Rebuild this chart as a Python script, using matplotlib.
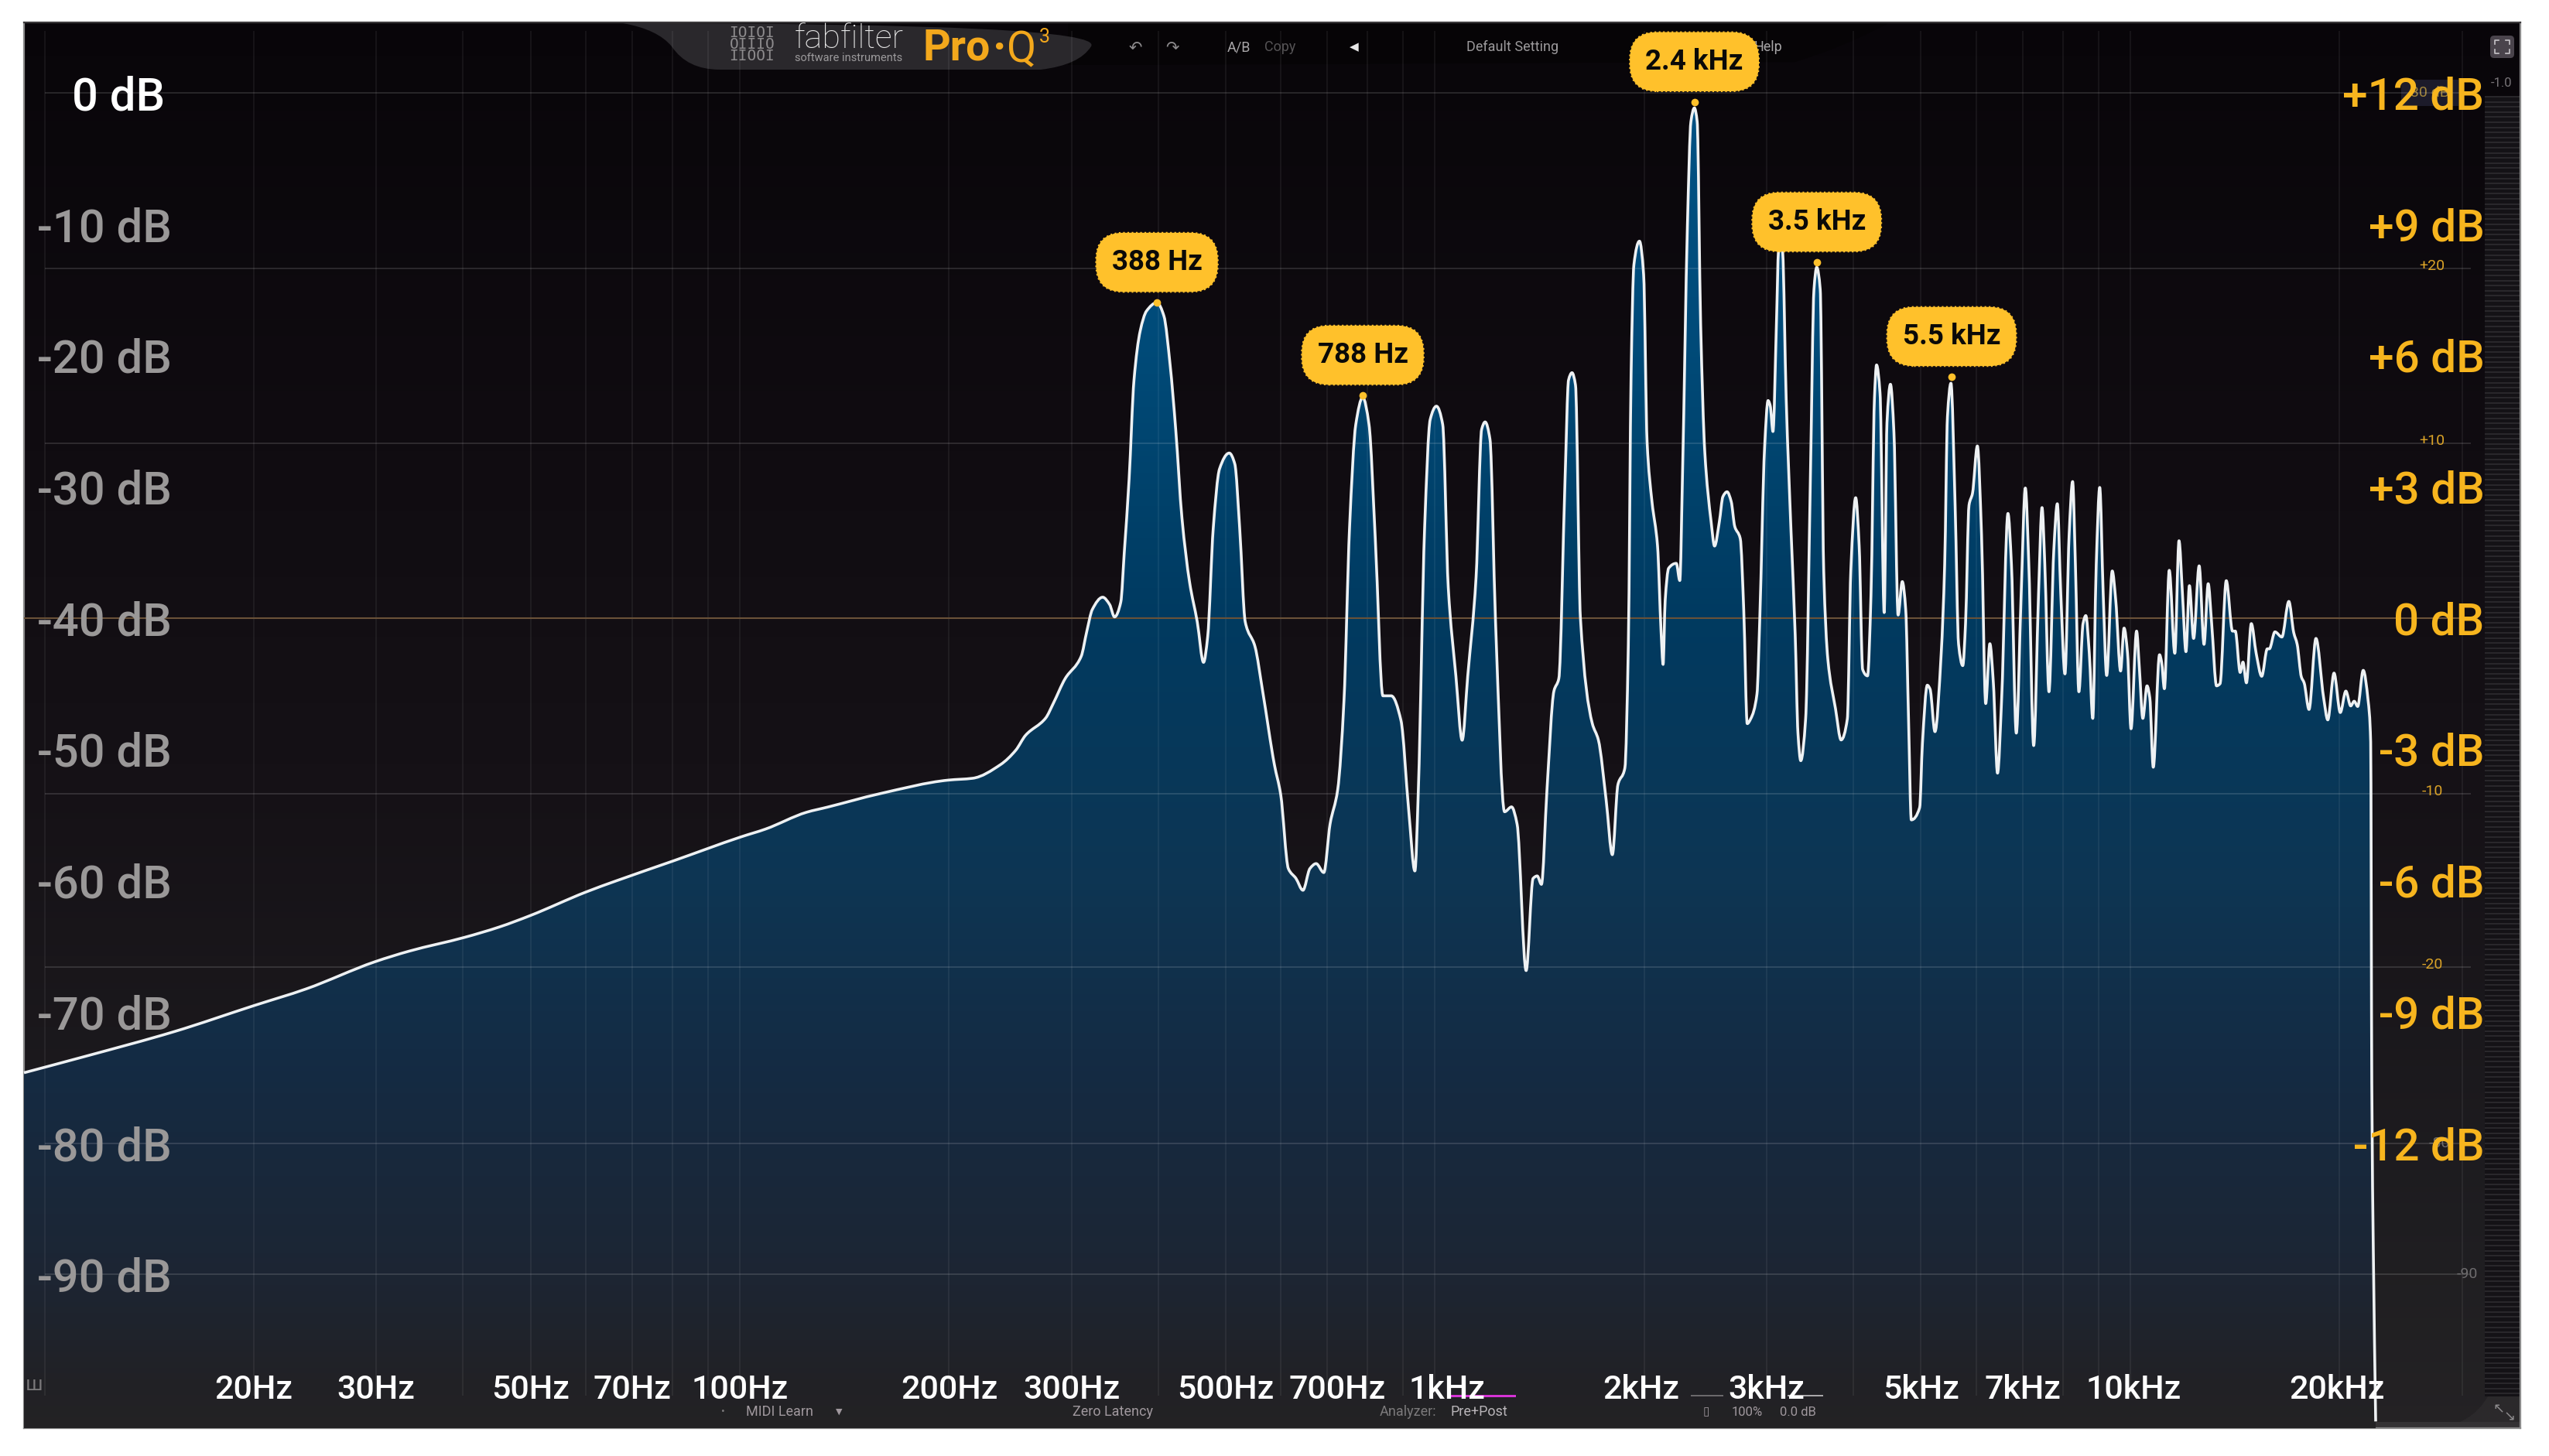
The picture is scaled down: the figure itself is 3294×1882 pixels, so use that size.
## Pro-Q 3 spectrum screenshot
import numpy as np
import matplotlib
matplotlib.use("Agg")
import matplotlib.pyplot as plt
from matplotlib.colors import LinearSegmentedColormap
from matplotlib.path import Path
from matplotlib.patches import PathPatch, Rectangle, FancyBboxPatch
from matplotlib.transforms import Affine2D

plt.rcParams["font.family"] = ["Roboto", "DejaVu Sans"]

########################### spectrum: log10(Hz) and dB ###############
lf_low = [.9705, 1.058, 1.187, 1.301, 1.376, 1.475, 1.525, 1.604, 1.654, 1.699, 1.778, 1.823,
          1.903, 2.002, 2.037, 2.096, 2.126, 2.201, 2.300, 2.335, 2.375]
db_low = [-74.64, -73.40, -71.50, -69.53, -68.26, -66.19, -65.37, -64.33, -63.54, -62.66, -60.89, -60.01,
          -58.53, -56.67, -56.08, -54.80, -54.41, -53.39, -52.35, -52.21, -51.17]

lf_mid = [2.397, 2.411, 2.440, 2.451, 2.468, 2.491, 2.499, 2.507, 2.522, 2.532, 2.539, 2.548, 2.553, 2.560,
          2.567, 2.576, 2.585, 2.600, 2.610, 2.619, 2.627, 2.636, 2.647, 2.658, 2.667, 2.673, 2.681, 2.690,
          2.704, 2.712, 2.719, 2.727, 2.741, 2.752, 2.769, 2.778, 2.789, 2.800, 2.810, 2.820, 2.829, 2.840,
          2.849, 2.860, 2.869, 2.877, 2.886, 2.896, 2.905, 2.914, 2.925, 2.937, 2.951, 2.962, 2.971, 2.976,
          2.985, 2.993, 3.002, 3.011, 3.019, 3.030, 3.039, 3.047, 3.059, 3.067, 3.072, 3.079, 3.087, 3.100,
          3.110, 3.118, 3.131, 3.141, 3.147, 3.153, 3.161, 3.171, 3.178, 3.187, 3.192, 3.197, 3.202, 3.209,
          3.226, 3.235, 3.246, 3.255, 3.263]
db_mid = [-50.07, -48.94, -47.62, -46.50, -44.62, -42.93, -41.05, -39.36, -38.42, -38.98, -39.92, -38.79, -35.03, -29.40,
          -21.88, -18.12, -16.62, -15.98, -16.99, -20.75, -25.64, -32.40, -37.29, -40.30, -43.38, -41.42, -33.16, -28.65,
          -27.44, -28.27, -33.16, -40.30, -42.17, -45.56, -51.19, -53.45, -59.09, -59.84, -60.74, -59.09, -58.71, -59.39,
          -55.70, -53.07, -46.31, -33.16, -25.26, -23.20, -25.26, -33.91, -45.93, -45.93, -47.81, -54.58, -59.27, -53.07,
          -33.16, -24.89, -23.87, -25.26, -37.66, -44.43, -49.31, -44.43, -36.91, -25.64, -25.07, -26.39, -40.30, -54.76,
          -54.39, -55.70, -66.86, -59.84, -59.65, -60.29, -53.07, -45.56, -44.62, -29.40, -21.88, -21.32, -22.26, -39.92,
          -48.00, -49.31, -53.82, -58.03, -52.70]

lf_upper = [3.273, 3.278, 3.282, 3.286, 3.294, 3.300, 3.305, 3.312, 3.320, 3.325, 3.328, 3.331, 3.336, 3.347, 3.352,
            3.356, 3.363, 3.368, 3.373, 3.377, 3.382, 3.388, 3.397, 3.402, 3.409, 3.414, 3.420, 3.426, 3.431, 3.439,
            3.444, 3.449, 3.454, 3.463, 3.467, 3.474, 3.479, 3.482, 3.486, 3.491, 3.494, 3.497, 3.500, 3.505, 3.512,
            3.518, 3.522, 3.526, 3.533, 3.540, 3.545, 3.549, 3.554, 3.559, 3.565, 3.576, 3.584, 3.593, 3.598, 3.605,
            3.610, 3.615, 3.622, 3.627, 3.632, 3.635, 3.640, 3.646, 3.650, 3.655, 3.660, 3.666, 3.672, 3.677, 3.681,
            3.685, 3.697, 3.701, 3.708, 3.712]
db_upper = [-51.43, -42.04, -21.37, -13.10, -11.30, -13.85, -26.63, -31.14, -34.52, -40.91, -43.54, -38.66, -36.21, -35.84, -37.15,
            -28.89, -10.09, -2.20, -1.15, -2.20, -17.61, -27.38, -32.64, -34.52, -32.64, -30.76, -30.39, -31.14, -33.02, -33.96,
            -39.41, -48.05, -47.68, -45.80, -40.16, -27.01, -23.44, -23.81, -25.80, -17.61, -11.97, -10.85, -12.16, -23.25, -33.39,
            -41.29, -48.80, -50.87, -47.68, -28.89, -14.98, -13.29, -14.98, -36.40, -43.17, -46.92, -49.29, -47.68, -36.40, -30.84,
            -34.52, -43.92, -44.41, -38.28, -23.25, -20.73, -22.87, -39.59, -25.13, -22.20, -25.88, -39.78, -37.23, -39.41, -47.68,
            -55.38, -54.44, -49.55, -45.12, -45.42]

lf_high = [3.719, 3.728, 3.733, 3.737, 3.742, 3.748, 3.753, 3.759, 3.763, 3.768, 3.773, 3.780, 3.786, 3.792, 3.798, 3.803,
           3.809, 3.815, 3.824, 3.829, 3.836, 3.843, 3.849, 3.854, 3.861, 3.868, 3.873, 3.877, 3.883, 3.890, 3.895, 3.900,
           3.906, 3.912, 3.917, 3.921, 3.926, 3.932, 3.936, 3.941, 3.946, 3.951, 3.956, 3.961, 3.966, 3.974, 3.979, 3.986,
           3.991, 3.996, 4.001, 4.009, 4.013, 4.018, 4.024, 4.028, 4.033, 4.042, 4.045, 4.049, 4.056, 4.064, 4.070, 4.075,
           4.080, 4.085, 4.091, 4.099, 4.106, 4.112, 4.117, 4.124, 4.129, 4.138, 4.147, 4.151, 4.158, 4.162, 4.167, 4.174,
           4.181, 4.189, 4.197, 4.200, 4.208, 4.218, 4.228, 4.235, 4.240, 4.246, 4.250, 4.257, 4.267, 4.278, 4.284, 4.293,
           4.302, 4.310, 4.317, 4.322, 4.327, 4.335, 4.342, 4.3457, 4.3473, 4.3495, 4.3529]
db_high = [-48.66, -42.69, -35.92, -24.66, -22.12, -31.41, -42.01, -43.63, -40.43, -31.41, -30.51, -26.90, -33.67, -46.52, -41.96, -44.94,
           -51.82, -46.07, -32.04, -35.92, -48.77, -38.18, -30.10, -35.92, -49.72, -38.18, -31.59, -35.92, -45.62, -34.79, -31.30, -38.18,
           -44.26, -33.67, -29.61, -35.92, -45.62, -40.43, -39.82, -42.69, -47.65, -35.92, -30.06, -38.18, -44.38, -36.42, -38.63, -44.04,
           -40.77, -42.69, -48.44, -41.00, -43.81, -47.65, -45.17, -46.07, -51.37, -42.80, -43.36, -45.39, -36.37, -42.69, -34.12, -38.18,
           -42.57, -37.54, -41.56, -36.03, -42.01, -37.39, -40.43, -45.17, -45.01, -37.16, -41.00, -41.00, -44.15, -43.36, -44.94, -40.43,
           -42.69, -44.44, -42.35, -42.35, -41.06, -41.45, -38.74, -41.11, -42.01, -44.49, -44.94, -46.97, -41.56, -46.07, -47.76, -44.20,
           -47.20, -45.57, -46.70, -46.34, -46.74, -43.99, -46.29, -49.45, -75.40, -88.20, -101.20]

########################### peak labels ##############################
peak_names = ["388 Hz", "788 Hz", "2.4 kHz", "3.5 kHz", "5.5 kHz"]
peak_lf = [2.600, 2.896, 3.373, 3.549, 3.743]
peak_db = [-15.98, -23.05, -0.70, -12.91, -21.63]

########################### axis labels ##############################
left_db = [0, -10, -20, -30, -40, -50, -60, -70, -80, -90]
right_gain = [12, 9, 6, 3, 0, -3, -6, -9, -12]
freq_names = ["20Hz", "30Hz", "50Hz", "70Hz", "100Hz", "200Hz", "300Hz", "500Hz", "700Hz", "1kHz",
              "2kHz", "3kHz", "5kHz", "7kHz", "10kHz", "20kHz"]
freq_name_hz = [20, 30, 50, 70, 100, 200, 300, 500, 723, 1040, 1980, 3000, 5000, 7000, 10100, 19800]
grid_hz = [10, 20, 30, 40, 50, 60, 70, 80, 90, 100, 200, 300, 400, 500, 600, 700, 800, 900, 1000,
           2000, 3000, 4000, 5000, 6000, 7000, 8000, 9000, 10000, 20000, 30000]
eq_grid_db = [0, -13.4, -26.7, -53.4, -66.6, -80, -90]
eq_small = ["+20", "+10", "-10", "-20"]
eq_small_db = [-13.4, -26.7, -53.4, -66.6]

YEL = "#ffc12b"
ORANGE = "#f7b51e"

W, H = 3294, 1882
fig = plt.figure(figsize=(W / 100, H / 100), dpi=100, facecolor="white")
ax = fig.add_axes([31 / W, 1 - 1846 / H, (3257 - 31) / W, (1846 - 29) / H])
ax.set_xscale("log")
y_top, y_bot = 5.36, -101.71
x_min, x_max = 10 ** .9705, 10 ** 4.561
ax.set_xlim(x_min, x_max)
ax.set_ylim(y_bot, y_top)
ax.autoscale(False)
ax.tick_params(which="both", length=0, labelbottom=False, labelleft=False)
ax.minorticks_off()
for name, sp in ax.spines.items():
    sp.set_color("#8a8a8a" if name in ("left", "bottom", "right") else "#3a383a")
    sp.set_linewidth(1.6)

## pixel transform for the plugin chrome (panels, icons)
px = Affine2D().scale(1 / 100, -1 / 100).translate(0, H / 100) + fig.dpi_scale_trans

## background gradient
edges = np.linspace(y_bot, y_top, 257)
centers = (edges[1:] + edges[:-1]) / 2
bg_cmap = LinearSegmentedColormap.from_list("bg", [(0, "#242224"), (.12, "#1f1e21"), (.45, "#151116"), (.72, "#0f0b10"), (1, "#080509")])
ax.pcolormesh([x_min, x_max], edges, centers[:, None], cmap=bg_cmap, vmin=y_bot, vmax=y_top, zorder=0, shading="flat")

## chrome panels
def panel(verts, codes, color, z=1):
    ax.add_patch(PathPatch(Path(verts, codes), fc=color, ec="none", transform=px, zorder=z, clip_on=True))

M, L, C = Path.MOVETO, Path.LINETO, Path.CURVE3
panel([(1380, 30), (2440, 30), (2385, 60), (2320, 80), (1440, 84), (1380, 84), (1380, 30)], [M, L, C, C, L, L, L], "#060406")
panel([(805, 30), (850, 38), (868, 60), (888, 90), (930, 90), (1345, 90), (1395, 84), (1410, 60), (1430, 30), (805, 30)],
      [M, C, C, C, L, L, C, C, C, L], "#2a282c", 2)
panel([(870, 1846), (885, 1804), (905, 1804), (2395, 1804), (2400, 1804), (2415, 1846), (870, 1846)], [M, C, C, L, C, C, L], "#2a252a")
panel([(3150, 1846), (3195, 1840), (3215, 1805), (3257, 1805), (3257, 1846), (3150, 1846)], [M, C, C, L, L, L], "#2b292b")
ax.add_patch(Rectangle((31, 1838), 3226, 8, fc="#343234", ec="none", transform=px, zorder=1))

## level meter strip on the right edge
ax.add_patch(Rectangle((3211, 125), 46, 1680, fc="#141216", ec="none", transform=px, zorder=1))
ax.hlines(np.arange(125, 1805, 6.6), 3211, 3257, colors="#2e2c30", linewidth=1.2, transform=px, zorder=1)
ax.add_patch(FancyBboxPatch((3218, 46), 31, 29, boxstyle="round,pad=0,rounding_size=5", fc="#4a444c", ec="none", transform=px, zorder=3))
## full-screen icon, no installed font has this sign
for cx, cy, dx, dy in [(3224, 52, 1, 1), (3243, 52, -1, 1), (3224, 69, 1, -1), (3243, 69, -1, -1)]:
    ax.plot([cx + 5 * dx, cx, cx], [cy, cy, cy + 5 * dy], color="#c8c4c8", lw=1.2, transform=px, zorder=4)
ax.add_patch(Rectangle((3103, 103), 74, 34, fc="#1c1b2a", ec="none", transform=px, zorder=1))
ax.text(3140, 120, "30 dB", color="#a0843c", fontsize=14, ha="center", va="center", transform=px, zorder=2)
ax.text(3233, 107, "-1.0", color="#777377", fontsize=12, ha="center", va="center", transform=px, zorder=4)

## grid
vg_top = (120 - 40) / 16.97
vg_bot = (120 - 1804) / 16.97
ax.vlines(grid_hz, vg_bot, vg_top, colors="white", alpha=.075, linewidth=1.1, zorder=4)
ax.hlines(eq_grid_db, 10 ** 1.0, 10 ** 4.49, colors="white", alpha=.13, linewidth=1.4, zorder=4)
ax.hlines(-40, x_min, 10 ** 4.50, colors="#6a5238", linewidth=1.5, zorder=4)

## spectrum fill and curve
log_f = np.array(lf_low + lf_mid + lf_upper + lf_high)
level = np.array(db_low + db_mid + db_upper + db_high)

## curve goes through every read point, bezier handles only round the corners like the analyzer does
def curve_path(lx, ly):
    dx = np.diff(lx)
    sl = np.diff(ly) / dx
    m = np.zeros(len(lx))
    for i in range(1, len(lx) - 1):
        if sl[i - 1] * sl[i] > 0:
            w1 = 2 * dx[i] + dx[i - 1]
            w2 = dx[i] + 2 * dx[i - 1]
            m[i] = (w1 + w2) / (w1 / sl[i - 1] + w2 / sl[i])
    m[0], m[-1] = sl[0], sl[-1]
    verts = [(lx[0], ly[0])]
    codes = [Path.MOVETO]
    for i in range(len(lx) - 1):
        h = dx[i] / 3
        verts += [(lx[i] + h, ly[i] + m[i] * h), (lx[i + 1] - h, ly[i + 1] - m[i + 1] * h), (lx[i + 1], ly[i + 1])]
        codes += [Path.CURVE4, Path.CURVE4, Path.CURVE4]
    verts = np.array(verts)
    verts[:, 0] = 10.0 ** verts[:, 0]
    return verts, codes

verts, codes = curve_path(log_f, level)
fill_cmap = LinearSegmentedColormap.from_list("fill", [(0, "#232224"), (.03, "#212125"), (.11, "#1c2533"), (.25, "#142a42"),
                                                       (.39, "#0d3553"), (.58, "#003a60"), (.77, "#004a78"), (1, "#005488")])
mesh = ax.pcolormesh([x_min, x_max], edges, centers[:, None], cmap=fill_cmap, vmin=y_bot, vmax=y_top, zorder=3, shading="flat")
clip_verts = np.vstack([verts, [[verts[-1, 0], y_bot], [verts[0, 0], y_bot], verts[0]]])
clip_codes = codes + [Path.LINETO, Path.LINETO, Path.CLOSEPOLY]
clip = PathPatch(Path(clip_verts, clip_codes), fc="none", ec="none", transform=ax.transData)
ax.add_patch(clip)
mesh.set_clip_path(clip)
ax.add_patch(PathPatch(Path(verts, codes), fc="none", ec="#eef1f3", lw=2.6, joinstyle="round", zorder=6, clip_on=False))

## analyzer scale on the left
for v in left_db:
    c = "white" if v == 0 else "#9a9898"
    hz = 14.9 if v == 0 else 15.25
    ax.text(hz, v, "%d dB" % v, color=c, fontsize=43, fontweight="medium", ha="right", va="center_baseline", zorder=7)
## gain scale on the right
for g in right_gain:
    s = "0 dB" if g == 0 else "%+d dB" % g
    ax.text(32300, -40 + g * 40 / 12, s, color=ORANGE, fontsize=42, fontweight="medium", ha="right", va="center_baseline", zorder=7)
for s, v in zip(eq_small, eq_small_db):
    ax.text(10 ** 4.434, v + .2, s, color="#d9a227", fontsize=14, ha="center", va="center", zorder=5)
ax.text(10 ** 4.484, -90, "-90", color="#6e6c6e", fontsize=14, ha="center", va="center", zorder=5)
ax.text(10 ** 4.445, -80, "-80", color="#6e6c6e", fontsize=14, ha="center", va="center", zorder=5)
## frequency scale
for s, f in zip(freq_names, freq_name_hz):
    ax.text(f, -98.5, s, color="white", fontsize=31, fontweight="medium", ha="center", va="center_baseline", zorder=7)

## peak markers and labels
for s, lf, d in zip(peak_names, peak_lf, peak_db):
    ax.plot([10 ** lf], [d], "o", color=YEL, markersize=7, mew=0, zorder=8)
    ax.annotate(s, (10 ** lf, d), xytext=(0, 37.5), textcoords="offset points", ha="center", va="center",
                fontsize=26.5, fontweight="bold", color="#0b0a08", zorder=9,
                bbox=dict(boxstyle="round,pad=0.55,rounding_size=0.95", fc=YEL, ec=YEL, ls=":", lw=1.5))

## header
def ui(x, y, s, color="#a9a7a9", size=13, z=5, **kw):
    ax.text(x, y, s, color=color, fontsize=size, ha=kw.pop("ha", "center"), va="center", transform=px, zorder=z, **kw)

for row, bits in enumerate(["IOIOI", "OIIIO", "IIOOI"]):
    ui(972, 42 + row * 15.5, bits, color="#8d8b8d", size=14, family=["DejaVu Sans Mono"])
ui(1097, 51, "fabfilter", color="#e8e8e8", size=31, fontweight="light")
ui(1097, 75, "software instruments", color="#9b999b", size=10.5)
ui(1236, 62, "Pro", color="#f3a81c", size=40, fontweight="bold")
ui(1292, 64, "·", color="#f3a81c", size=42, fontweight="bold")
ui(1320, 65, "Q", color="#f3a81c", size=40)
ui(1350, 48, "3", color="#f3a81c", size=18)
ui(1467, 61, "↶", color="#8d8b8d", size=15, family=["DejaVu Sans"])
ui(1515, 61, "↷", color="#8d8b8d", size=15, family=["DejaVu Sans"])
ui(1601, 61, "A/B", color="#a9a7a9")
ui(1654, 61, "Copy", color="#555355")
ui(1750, 61, "◀", color="#e8e8e8", size=11, family=["DejaVu Sans"])
ui(1955, 61, "Default Setting", color="#9b999b")
ui(2285, 61, "Help", color="#a9a7a9")

## footer
ui(44, 1790, "ш", color="#7b797b", size=18, family=["DejaVu Sans"])
ui(934, 1825, "•", color="#7b797b", size=10)
ui(1008, 1825, "MIDI Learn", color="#a0989e")
ui(1084, 1825, "▼", color="#a0989e", size=8, family=["DejaVu Sans"])
ui(1438, 1825, "Zero Latency", color="#a0989e")
ui(1819, 1825, "Analyzer:", color="#7b797b")
ui(1911, 1825, "Pre+Post", color="#b8b4b8")
ui(2205, 1825, "▯", color="#a0989e", size=11, family=["DejaVu Sans"])
ui(2258, 1825, "100%", color="#a0989e", size=12)
ui(2323, 1825, "0.0 dB", color="#a0989e", size=12)
ui(3229, 1821, "↖", color="#8d8b8d", size=13, family=["DejaVu Sans"])
ui(3243, 1832, "↘", color="#8d8b8d", size=13, family=["DejaVu Sans"])
ax.add_patch(Rectangle((1875, 1803), 84, 3, fc="#d633d6", ec="none", transform=px, zorder=6))
ax.add_patch(Rectangle((2185, 1803), 42, 2, fc="#6b696b", ec="none", transform=px, zorder=6))
ax.add_patch(Rectangle((2310, 1803), 46, 2, fc="#a9a7a9", ec="none", transform=px, zorder=6))

fig.savefig("out.png", dpi=100, facecolor="white")
